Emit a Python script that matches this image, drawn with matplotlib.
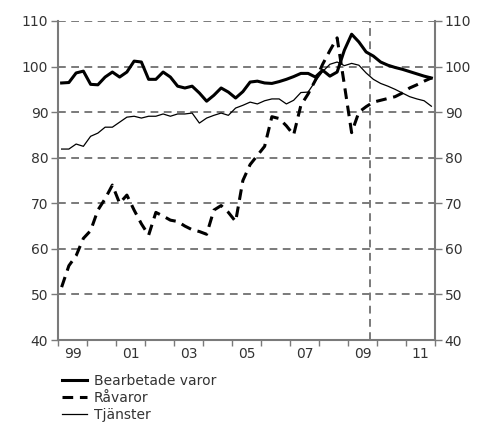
import matplotlib
matplotlib.use("Agg")
import matplotlib.pyplot as plt
import numpy as np
from matplotlib.lines import Line2D

plt.rcParams['font.family'] = ['DejaVu Sans']

years = list(range(1999, 2012))
year_labels = ["99", "01", "03", "05", "07", "09", "11"]

bearbetade = [96.4, 96.5, 98.6, 99.0,
              96.1, 96.0, 97.7, 98.8,
              97.7, 98.8, 101.2, 101.0,
              97.2, 97.2, 98.8, 97.7,
              95.7, 95.3, 95.7, 94.2,
              92.4, 93.7, 95.3, 94.4,
              93.1, 94.5, 96.6, 96.8,
              96.4, 96.3, 96.7, 97.2,
              97.8, 98.5, 98.5, 97.7,
              99.2, 97.9, 98.8, 103.6,
              107.1, 105.4, 103.2, 102.3,
              101.0, 100.3, 99.8, 99.4,
              98.9, 98.4, 97.9, 97.5]

ravaror = [51.6, 56.3, 58.5, 62.3,
           64.0, 68.5, 71.0, 74.0,
           70.0, 71.8, 68.5, 65.5,
           63.0, 68.0, 67.2, 66.3,
           66.0, 65.0, 64.2, 63.8,
           63.2, 68.5, 69.5, 68.0,
           66.0, 75.0, 78.5, 80.5,
           82.5, 89.0, 88.6, 87.0,
           85.0, 91.5, 94.0, 97.0,
           100.5, 103.5, 106.3, 96.0,
           85.5, 90.0, 91.2, 92.2,
           92.6, 93.0, 93.4, 94.2,
           95.3, 96.0, 96.8, 97.5]

tjanster = [81.9, 81.9, 83.0, 82.5,
            84.7, 85.4, 86.7, 86.7,
            87.8, 88.9, 89.1, 88.7,
            89.1, 89.1, 89.6, 89.1,
            89.6, 89.6, 89.8, 87.6,
            88.7, 89.3, 89.8, 89.3,
            90.9, 91.5, 92.2, 91.8,
            92.5, 92.9, 92.9, 91.8,
            92.6, 94.3, 94.4, 96.8,
            98.9, 100.5, 101.0, 100.2,
            100.7, 100.3, 98.6, 97.2,
            96.3, 95.7, 95.0, 94.2,
            93.4, 92.9, 92.5, 91.3]

n = len(bearbetade)
x = np.array([years[0] + (i + 0.5) / 4 for i in range(n)])

forecast_start = 2009.75

fig = plt.figure(figsize=(4.86, 4.25), dpi=100)
ax = fig.add_axes([58/486, 85/425, (435-58)/486, (340-21)/425])

grid_color = '#7a7a7a'
text_color = '#333333'

for v in range(50, 111, 10):
    ax.axhline(v, color=grid_color, lw=1.4, ls=(0, (4, 2.8)), zorder=1)
ax.axvline(forecast_start, color=grid_color, lw=1.4, ls=(0, (4, 2.8)), zorder=1)

ax.plot(x, bearbetade, color='black', lw=2.2, zorder=3)
ax.plot(x, ravaror, color='black', lw=2.2, ls=(0, (3.5, 2.2)), zorder=3)
ax.plot(x, tjanster, color='black', lw=0.9, zorder=3)

ax.set_xlim(1999, 2012)
ax.set_ylim(40, 110)

ax.set_yticks(range(40, 111, 10))
ax.tick_params(axis='y', which='both', direction='out', length=5, width=1,
               color=grid_color, labelsize=10, labelcolor=text_color,
               left=True, right=True, labelleft=True, labelright=True, pad=2)

ax.set_xticks(range(1999, 2013), minor=False)
ax.set_xticklabels([])
label_pos = [(1900 if l.startswith("9") else 2000) + int(l) + 0.5 for l in year_labels]
ax.set_xticks(label_pos, minor=True)
ax.set_xticklabels(year_labels, minor=True)
ax.tick_params(axis='x', which='major', direction='out', length=4, width=1, color=grid_color)
ax.tick_params(axis='x', which='minor', length=0, labelsize=10, labelcolor=text_color, pad=5)

for s in ['left', 'right', 'bottom']:
    ax.spines[s].set_color(grid_color)
    ax.spines[s].set_linewidth(1.5)
ax.spines['top'].set_visible(False)

handles = [Line2D([], [], color='black', lw=2.2),
           Line2D([], [], color='black', lw=2.2, ls=(0, (3.5, 2.2))),
           Line2D([], [], color='black', lw=0.9)]
labels = ["Bearbetade varor", "Råvaror", "Tjänster"]
leg = fig.legend(handles, labels, loc='upper left', bbox_to_anchor=(62/486, 1 - 374/425),
                 frameon=False, fontsize=10, handlelength=1.8, handletextpad=0.5,
                 labelspacing=0.2, borderaxespad=0, borderpad=0)
for t in leg.get_texts():
    t.set_color(text_color)

fig.savefig("out.png", dpi=100)
